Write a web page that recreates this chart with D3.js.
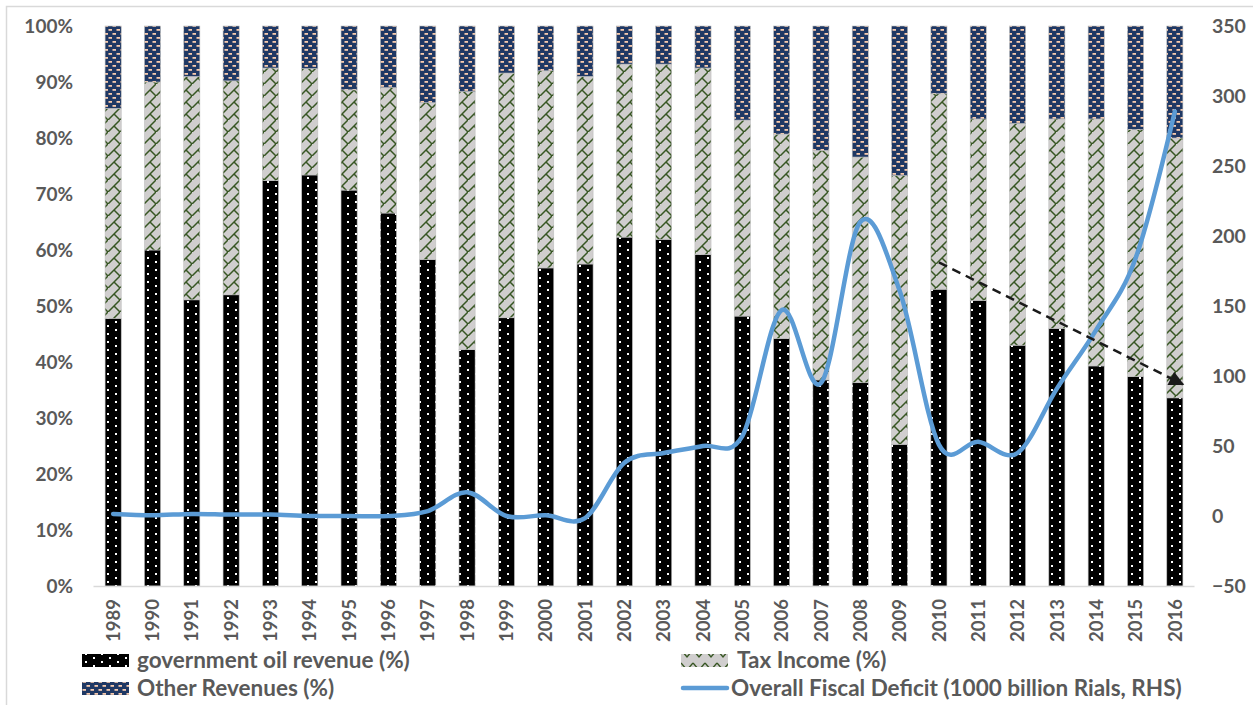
<!DOCTYPE html>
<html>
<head>
<meta charset="utf-8">
<script src="https://cdn.jsdelivr.net/npm/d3@7"></script>
<style>
  html, body { margin: 0; padding: 0; background: #fff; }
  svg { display: block; }
  text { font-family: Lato, "Open Sans", sans-serif; font-weight: 700; fill: #595959; }
</style>
</head>
<body>
<svg id="chart" width="1253" height="705"></svg>
<script>
// Years on the category axis
const years = ["1989","1990","1991","1992","1993","1994","1995","1996","1997","1998",
  "1999","2000","2001","2002","2003","2004","2005","2006","2007","2008",
  "2009","2010","2011","2012","2013","2014","2015","2016"];

// Government oil revenue, share of total revenue (%)
const oilRevenue = [47.8, 60.0, 51.1, 52.0, 72.4, 73.4, 70.7, 66.6, 58.3, 42.2,
  47.9, 56.8, 57.5, 62.3, 61.9, 59.2, 48.2, 44.2, 36.8, 36.3,
  25.3, 53.0, 51.0, 43.0, 46.0, 39.3, 37.4, 33.6];

// Tax income, share of total revenue (%)
const taxIncome = [37.5, 30.0, 39.9, 38.2, 20.1, 19.0, 17.9, 22.4, 28.0, 46.1,
  43.7, 35.2, 33.5, 30.9, 31.3, 33.3, 35.0, 36.5, 41.0, 40.3,
  48.0, 34.9, 32.4, 39.6, 37.4, 44.1, 44.1, 46.4];

// Other revenues, share of total revenue (%)
const otherRevenue = [14.7, 10.0, 9.0, 9.8, 7.5, 7.6, 11.4, 11.0, 13.7, 11.7,
  8.4, 8.0, 9.0, 6.8, 6.8, 7.5, 16.8, 19.3, 22.2, 23.4,
  26.7, 12.1, 16.6, 17.4, 16.6, 16.6, 18.5, 20.0];

// Overall fiscal deficit (1000 billion Rials, right-hand axis)
const fiscalDeficit = [1.5, 0.5, 1.5, 1, 1, 0, 0, 0, 3.5, 17,
  0, 0.5, -1.5, 38, 45, 50, 57, 147, 95, 210,
  161, 51, 53, 45, 91, 133, 184, 289];

// Axis tick values
const leftTicks = [0, 10, 20, 30, 40, 50, 60, 70, 80, 90, 100];
const rightTicks = [-50, 0, 50, 100, 150, 200, 250, 300, 350];

// Trend annotation: declining oil share, 2010 to 2016 (% on left axis)
const trendFrom = { year: "2010", value: 57.8 };
const trendTo = { year: "2016", value: 36.0 };

// Legend entries
const legendItems = [
  { key: "oil", label: "government oil revenue (%)" },
  { key: "tax", label: "Tax Income (%)" },
  { key: "other", label: "Other Revenues (%)" },
  { key: "deficit", label: "Overall Fiscal Deficit (1000 billion Rials, RHS)" }
];

const svg = d3.select("#chart");
const plot = { left: 93.5, right: 1194.5, top: 26, bottom: 586 };

// Frame around the chart area
svg.append("rect").attr("x", 6.5).attr("y", 6.5).attr("width", 1260).attr("height", 710)
  .attr("fill", "none").attr("stroke", "#d9d9d9").attr("stroke-width", 1.5);

// Fill patterns for the three revenue series
const defs = svg.append("defs");

const pOil = defs.append("pattern").attr("id", "pat-oil")
  .attr("patternUnits", "userSpaceOnUse").attr("width", 16).attr("height", 8);
pOil.append("rect").attr("width", 16).attr("height", 8).attr("fill", "#000");
pOil.append("rect").attr("x", 3).attr("y", 1).attr("width", 2).attr("height", 2).attr("fill", "#fff");
pOil.append("rect").attr("x", 11).attr("y", 5).attr("width", 2).attr("height", 2).attr("fill", "#fff");

const pTax = defs.append("pattern").attr("id", "pat-tax")
  .attr("patternUnits", "userSpaceOnUse").attr("width", 12).attr("height", 12);
pTax.append("rect").attr("width", 12).attr("height", 12).attr("fill", "#d0cece");
pTax.append("path").attr("d", "M12,0 L0,12 M6,6 L12,12")
  .attr("stroke", "#375623").attr("stroke-width", 1.5).attr("fill", "none");

const pOther = defs.append("pattern").attr("id", "pat-other")
  .attr("patternUnits", "userSpaceOnUse").attr("width", 8).attr("height", 8);
pOther.append("rect").attr("width", 8).attr("height", 8).attr("fill", "#1f3864");
pOther.append("rect").attr("x", 0.5).attr("y", 1).attr("width", 3.5).attr("height", 1.8).attr("fill", "#f8cbad");
pOther.append("rect").attr("x", 4.5).attr("y", 5).attr("width", 3.5).attr("height", 1.8).attr("fill", "#f8cbad");

// Legend swatch with a horizontal zigzag for the tax series
const pTaxLegend = defs.append("pattern").attr("id", "pat-tax-legend")
  .attr("patternUnits", "userSpaceOnUse").attr("width", 12).attr("height", 13);
pTaxLegend.append("rect").attr("width", 12).attr("height", 13).attr("fill", "#d0cece");
pTaxLegend.append("path").attr("d", "M0,3 L6,10 L12,3")
  .attr("stroke", "#375623").attr("stroke-width", 1.4).attr("fill", "none");

const seriesFill = {
  oil: "url(#pat-oil)", tax: "url(#pat-tax)", other: "url(#pat-other)"
};
const legendFill = {
  oil: "url(#pat-oil)", tax: "url(#pat-tax-legend)", other: "url(#pat-other)"
};

// Scales
const x = d3.scaleBand().domain(years).range([plot.left, plot.right]).paddingInner(0.59).paddingOuter(0.295);
const yL = d3.scaleLinear().domain([0, 100]).range([plot.bottom, plot.top]);
const yR = d3.scaleLinear().domain([-50, 350]).range([plot.bottom, plot.top]);

// Stacked revenue shares
const rows = years.map((y, i) => ({ year: y, oil: oilRevenue[i], tax: taxIncome[i], other: otherRevenue[i] }));
const stack = d3.stack().keys(["oil", "tax", "other"])(rows);

const barG = svg.append("g");
stack.forEach(layer => {
  barG.append("g").selectAll("rect").data(layer).join("rect")
    .attr("x", d => x(d.data.year))
    .attr("width", x.bandwidth())
    .attr("y", d => yL(d[1]))
    .attr("height", d => yL(d[0]) - yL(d[1]))
    .attr("fill", seriesFill[layer.key])
    .attr("stroke", "#bfbfbf").attr("stroke-width", 0.6);
});

// Category axis line and rotated year labels
svg.append("line").attr("x1", plot.left).attr("x2", plot.right)
  .attr("y1", plot.bottom + 0.5).attr("y2", plot.bottom + 0.5)
  .attr("stroke", "#d9d9d9").attr("stroke-width", 1.5);

const xAxis = d3.axisBottom(x).tickSize(0).tickPadding(0);
const xg = svg.append("g").attr("transform", `translate(0,${plot.bottom})`).call(xAxis);
xg.select(".domain").remove();
xg.selectAll("text")
  .attr("transform", "translate(0,13) rotate(-90)")
  .attr("text-anchor", "end").attr("dy", "0.36em").attr("y", 0).attr("x", 0)
  .style("font-size", "18.5px").style("font-family", "Lato, sans-serif").style("font-weight", 700).attr("fill", "#595959");

// Left axis: revenue shares
const yLAxis = d3.axisLeft(yL).tickValues(leftTicks).tickFormat(d => d + "%").tickSize(0).tickPadding(0);
const ylg = svg.append("g").attr("transform", "translate(73,0)").call(yLAxis);
ylg.select(".domain").remove();
ylg.selectAll("text").style("font-size", "19px").style("font-family", "Lato, sans-serif")
  .style("font-weight", 700).attr("fill", "#595959");

// Right axis: fiscal deficit
const yRAxis = d3.axisRight(yR).tickValues(rightTicks).tickSize(0).tickPadding(0);
const yrg = svg.append("g").attr("transform", "translate(1212,0)").call(yRAxis);
yrg.select(".domain").remove();
yrg.selectAll("text").style("font-size", "19.5px").style("font-family", "Lato, sans-serif")
  .style("font-weight", 700).attr("fill", "#595959");

// Smoothed fiscal deficit line
const xc = d => x(d) + x.bandwidth() / 2;
const line = d3.line()
  .x((d, i) => xc(years[i]))
  .y(d => yR(d))
  .curve(d3.curveCatmullRom.alpha(0));
svg.append("path").datum(fiscalDeficit)
  .attr("d", line).attr("fill", "none")
  .attr("stroke", "#5b9bd5").attr("stroke-width", 4.5)
  .attr("stroke-linejoin", "round").attr("stroke-linecap", "round");

// Dashed trend arrow
defs.append("marker").attr("id", "arrowhead")
  .attr("viewBox", "0 0 10 10").attr("refX", 9).attr("refY", 5)
  .attr("markerWidth", 7.5).attr("markerHeight", 6).attr("orient", "auto")
  .attr("markerUnits", "strokeWidth")
  .append("path").attr("d", "M0,0 L10,5 L0,10 Z").attr("fill", "#1a1a1a");
svg.append("line")
  .attr("x1", xc(trendFrom.year)).attr("y1", yL(trendFrom.value))
  .attr("x2", xc(trendTo.year) + x.bandwidth() / 2).attr("y2", yL(trendTo.value))
  .attr("stroke", "#1a1a1a").attr("stroke-width", 2.5)
  .attr("stroke-dasharray", "9,6")
  .attr("marker-end", "url(#arrowhead)");

// Legend
const legendPos = [
  { x: 82, y: 660 }, { x: 681, y: 660 },
  { x: 82, y: 688 }, { x: 681, y: 688 }
];
const lg = svg.append("g");
legendItems.forEach((item, i) => {
  const p = legendPos[i];
  const g = lg.append("g").attr("transform", `translate(${p.x},${p.y})`);
  if (item.key === "deficit") {
    g.append("line").attr("x1", 2).attr("x2", 46).attr("y1", 0).attr("y2", 0)
      .attr("stroke", "#5b9bd5").attr("stroke-width", 4.5).attr("stroke-linecap", "round");
    g.append("text").attr("x", 50).attr("y", 0).attr("dy", "0.35em")
      .style("font-size", "22.5px").text(item.label);
  } else {
    g.append("rect").attr("x", 0).attr("y", -6).attr("width", 47).attr("height", 13)
      .attr("fill", legendFill[item.key]);
    g.append("text").attr("x", item.key === "tax" ? 56 : 55).attr("y", 0).attr("dy", "0.35em")
      .style("font-size", "22.5px").text(item.label);
  }
});
</script>
</body>
</html>
